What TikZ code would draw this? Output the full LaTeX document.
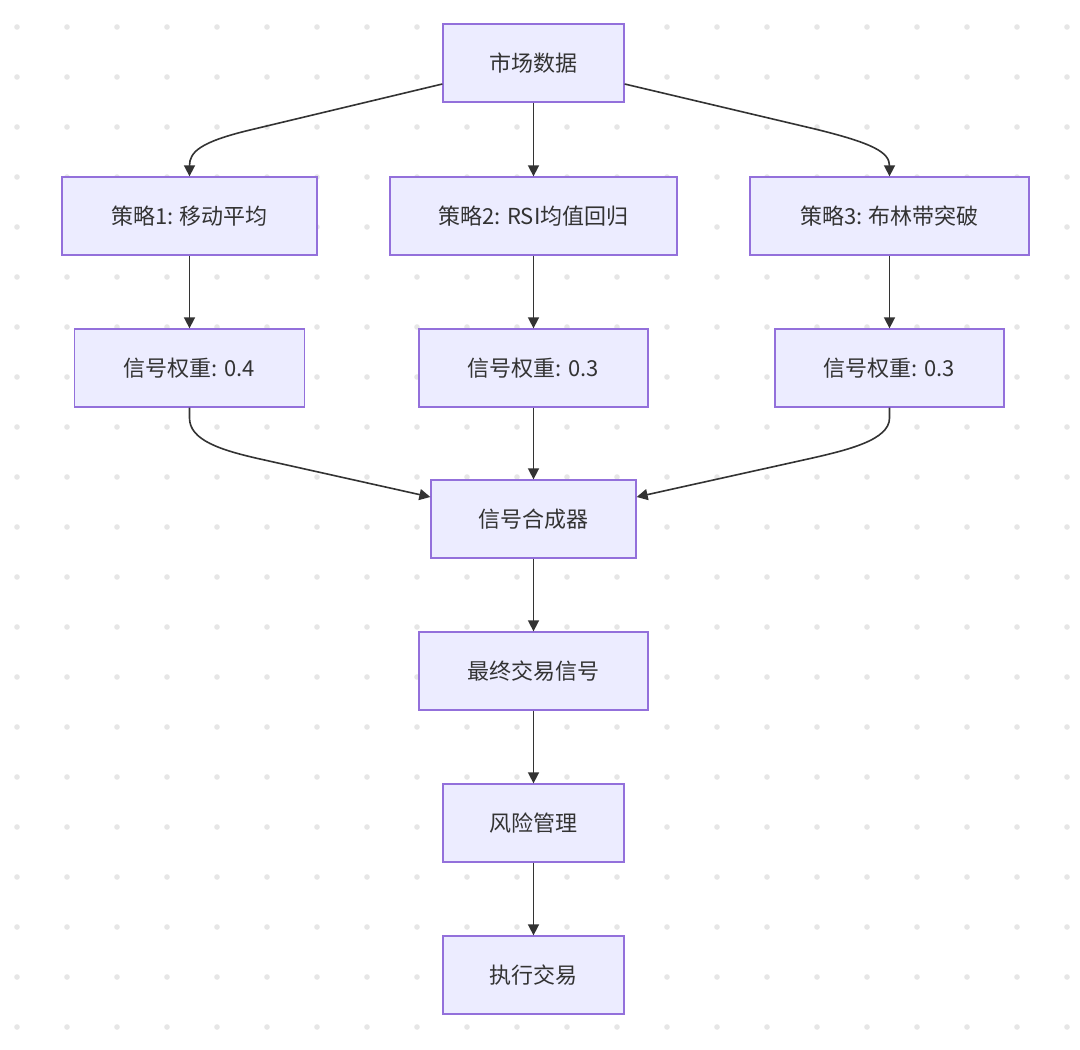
\documentclass[tikz,border=0pt]{standalone}
\usepackage{fontspec}
\setmainfont{Noto Sans CJK SC}
\usetikzlibrary{arrows.meta}
\definecolor{boxfill}{HTML}{ECECFF}
\definecolor{boxline}{HTML}{9370DB}
\definecolor{edgecol}{HTML}{333333}
\definecolor{dotcol}{HTML}{E6E6E6}
\tikzset{
  flowbox/.style={draw=boxline, fill=boxfill, line width=1.3pt, inner sep=0pt,
    minimum height=78pt, text=edgecol, font=\fontsize{22}{25}\selectfont},
  flowedge/.style={draw=edgecol, line width=1.6pt, -{Triangle[length=11pt,width=11pt]}},
}
\begin{document}
\begin{tikzpicture}[x=1pt,y=-1pt]
\useasboundingbox (0,0) rectangle (1080,1050);
\fill[white] (0,0) rectangle (1080,1050);
\foreach \i in {0,...,21} \foreach \j in {0,...,20}
  \fill[dotcol] (17+50*\i,27+50*\j) circle (2.8);

\node[flowbox, minimum width=181pt] (src) at (533.5,63) {市场数据};
\node[flowbox, minimum width=255pt] (s1) at (189.5,216) {策略1: 移动平均};
\node[flowbox, minimum width=287pt] (s2) at (533.5,216) {策略2: RSI均值回归};
\node[flowbox, minimum width=279pt] (s3) at (889.5,216) {策略3: 布林带突破};
\node[flowbox, minimum width=230pt] (w1) at (189.5,368) {信号权重: 0.4};
\node[flowbox, minimum width=229pt] (w2) at (533.5,368) {信号权重: 0.3};
\node[flowbox, minimum width=229pt] (w3) at (889.5,368) {信号权重: 0.3};
\node[flowbox, minimum width=205pt] (comb) at (533.5,519) {信号合成器};
\node[flowbox, minimum width=229pt] (final) at (533.5,671) {最终交易信号};
\node[flowbox, minimum width=181pt] (risk) at (533.5,823) {风险管理};
\node[flowbox, minimum width=181pt] (exec) at (533.5,975) {执行交易};

\coordinate (c1) at (250,130);
\coordinate (c3) at (815,129);
\coordinate (c4) at (260,459);
\coordinate (c6) at (808,459);

\draw[flowedge] (src.west|-0,84) -- (c1) .. controls (200,142) and (189.5,152) .. (s1.north);
\draw[flowedge] (src) -- (s2);
\draw[flowedge] (src.east|-0,84) -- (c3) .. controls (872,143) and (889.5,152) .. (s3.north);
\draw[flowedge] (s1) -- (w1);
\draw[flowedge] (s2) -- (w2);
\draw[flowedge] (s3) -- (w3);
\draw[flowedge, -] (w1.south) -- (189.5,418) .. controls (189.5,440) and (220,450) .. (c4);
\draw[flowedge] (c4) -- (comb.west|-0,497);
\draw[flowedge] (w2) -- (comb);
\draw[flowedge, -] (w3.south) -- (889.5,418) .. controls (889.5,440) and (848,450) .. (c6);
\draw[flowedge] (c6) -- (comb.east|-0,497);
\draw[flowedge] (comb) -- (final);
\draw[flowedge] (final) -- (risk);
\draw[flowedge] (risk) -- (exec);
\end{tikzpicture}
\end{document}
